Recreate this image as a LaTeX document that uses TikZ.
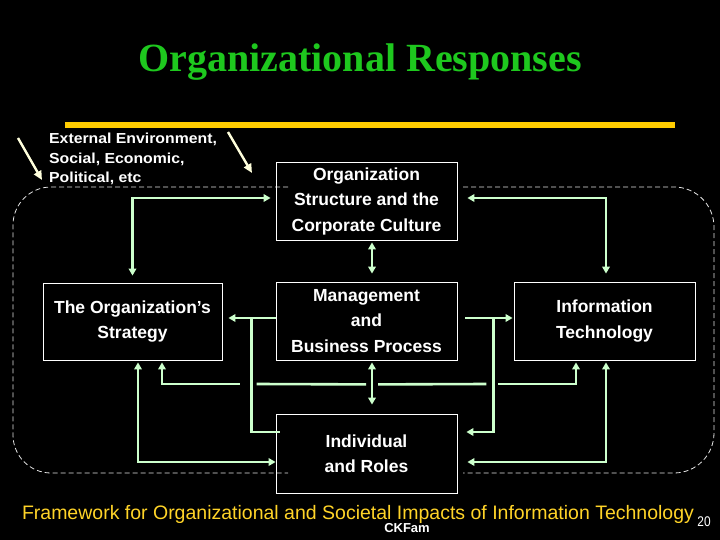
\documentclass[tikz,border=0pt]{standalone}
\usepackage{fontspec}
\setmainfont{Liberation Sans}
\newfontfamily\titlefont{Liberation Serif}
\usetikzlibrary{arrows.meta,calc}
\definecolor{pgreen}{RGB}{204,255,204}
\definecolor{tgreen}{RGB}{30,200,30}
\definecolor{gold}{RGB}{255,204,0}
\definecolor{ftyellow}{RGB}{255,212,40}
\definecolor{awhite}{RGB}{255,255,220}
\tikzset{
  box/.style={draw=white,line width=0.8pt,text=white,align=center,inner sep=0pt,
    font=\bfseries\fontsize{17.5}{25.5}\selectfont},
  conn/.style={draw=pgreen,line width=2.6pt},
  dbl/.style={conn,{Triangle[length=7pt,width=7.5pt]}-{Triangle[length=7pt,width=7.5pt]}},
  sarr/.style={conn,-{Triangle[length=7pt,width=7.5pt]}},
  rarr/.style={conn,{Triangle[length=7pt,width=7.5pt]}-},
  border/.style={draw=white!90!black,line width=0.8pt,dash pattern=on 5pt off 3pt},
  envarrow/.style={draw=awhite,line width=2.4pt,-{Triangle[length=9pt,width=8pt]}},
}
\begin{document}
\begin{tikzpicture}[x=1pt,y=-1pt]
\fill[black] (0,0) rectangle (720,540);
\useasboundingbox (0,0) rectangle (720,540);

% title and bar
\node[text=tgreen,anchor=base,inner sep=0pt,font=\titlefont\bfseries\fontsize{40}{44}\selectfont] (title) at (360,72) {Organizational Responses};
\fill[gold] (65,122) rectangle (675,128);

% dashed environment border
\draw[border,rounded corners=38pt] (288,187) -- (13,187) -- (13,473) -- (288,473);
\draw[border,rounded corners=40pt] (463,187) -- (714,187) -- (714,473) -- (463,473);

% environment text and arrows
\node[text=white,align=left,anchor=north west,inner sep=0pt,font=\bfseries\fontsize{14.5}{19.5}\selectfont] (env) at (49,133) {\scalebox{1.09}[1]{External Environment,}\\\scalebox{1.09}[1]{Social, Economic,}\\\scalebox{1.09}[1]{Political, etc}};
\coordinate (e1s) at (18,138);
\coordinate (e1e) at (42,180);
\coordinate (e2s) at (228,132);
\coordinate (e2e) at (252,173);
\draw[envarrow] (e1s) -- (e1e);
\draw[envarrow] (e2s) -- (e2e);

% boxes
\node[box,minimum width=181pt,minimum height=78pt] (org) at (366.5,201) {Organization\\Structure and the\\Corporate Culture};
\node[box,minimum width=181pt,minimum height=78pt] (mgmt) at (366.5,321) {Management\\and\\Business Process};
\node[box,minimum width=179pt,minimum height=77pt] (strat) at (132.5,321.5) {The Organization’s\\Strategy};
\node[box,minimum width=181pt,minimum height=78pt] (it) at (604.5,321) {Information\\Technology};
\node[box,minimum width=181pt,minimum height=79pt] (ind) at (366.5,453.5) {Individual\\and Roles};

% connectors
\draw[dbl] ($(strat.north)+(0,-7)$) |- ($(org.west)+(-5,-3)$);
\draw[dbl] ($(org.east)+(10,-3)$) -| ($(it.north)+(1.5,-8)$);
\draw[dbl] ($(org.south)+(5.5,2)$) -- ($(mgmt.north)+(5.5,-8)$);
\draw[sarr] ($(mgmt.west)+(0,-3)$) -- ($(strat.east)+(6,-3.5)$);
\draw[conn] ($(ind.west)+(4,-21.5)$) -| ($(mgmt.west)+(-24,-3)$);
\draw[sarr] ($(mgmt.east)+(8,-3)$) -- ($(it.west)+(-1,-3)$);
\draw[sarr] ($(mgmt.east)+(36,-3)$) |- ($(ind.east)+(9,-21.5)$);
\draw[rarr] ($(strat.south)+(29.5,2)$) |- ($(mgmt.west)+(-36,63)$);
\draw[conn] ($(mgmt.west)+(-19,63)$) -- ($(mgmt.south)+(-0.5,24)$);
\draw[conn] ($(mgmt.south)+(11.5,24)$) -- ($(mgmt.east)+(29,63)$);
\draw[sarr] ($(mgmt.east)+(41,63)$) -| ($(it.south)+(-28.5,2)$);
\draw[dbl] ($(mgmt.south)+(5.5,2)$) -- ($(ind.north)+(5.5,-9)$);
\draw[dbl] ($(strat.south)+(5.5,2)$) |- ($(ind.west)+(0,8.5)$);
\draw[dbl] ($(it.south)+(1.5,2)$) |- ($(ind.east)+(10,8.5)$);

% footer
\node[text=ftyellow,inner sep=0pt,font=\fontsize{19.5}{22}\selectfont] (foot) at (358,514) {Framework for Organizational and Societal Impacts of Information Technology};
\node[text=white,inner sep=0pt,font=\fontsize{14}{16}\selectfont] (pg) at (704,522) {\scalebox{0.85}[1]{20}};
\node[text=white,inner sep=0pt,font=\bfseries\fontsize{13}{15}\selectfont] (ck) at (407,528) {CKFam};
\end{tikzpicture}
\end{document}
